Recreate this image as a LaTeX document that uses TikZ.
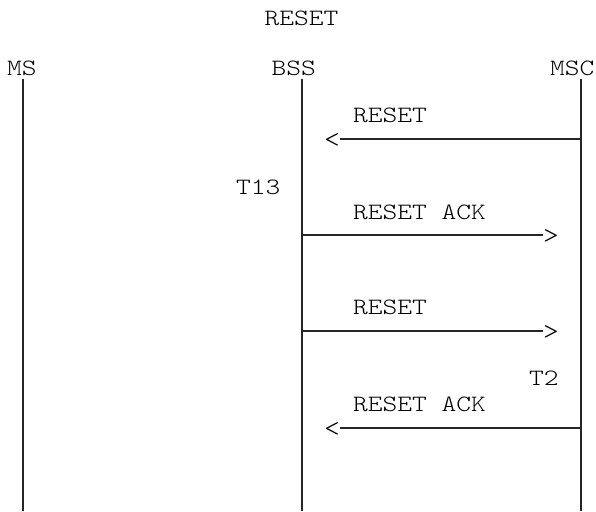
\documentclass[tikz,border=0pt]{standalone}
\usepackage{fontspec}
\setmonofont[FakeStretch=1.2]{lmmonolt10-regular.otf}
\usetikzlibrary{positioning}
\tikzset{
  lbl/.style={font=\ttfamily\fontsize{23.4}{28}\selectfont, inner sep=0pt, anchor=base west},
  head/.style={font=\ttfamily\fontsize{25}{30}\selectfont, inner sep=0pt},
  life/.style={line width=2pt, black!85},
  msg/.style={line width=2pt, black!85},
}
\begin{document}
\begin{tikzpicture}[x=1pt, y=-1pt]
\useasboundingbox (0,0) rectangle (596,511);
\node[lbl, anchor=base] (title) at (301.5,26) {RESET};
\node[lbl] (ms) at (7,75) {MS};
\node[lbl] (bss) at (271.5,75) {BSS};
\node[lbl] (msc) at (550,75) {MSC};
% lifelines
\foreach \n/\x in {ms/23, bss/302, msc/581} {
  \coordinate (\n top) at (\x,79);
  \coordinate (\n bot) at (\x,511);
  \draw[life] (\n top) -- (\n bot);
}
% timers
\node[lbl] (t13) at (236,194.3) {T13};
\node[lbl] (t2) at (529,385.7) {T2};
% messages
\node[lbl] (l1) at (353,122.7) {RESET};
\coordinate (m1) at (581,139);
\node[head, anchor=base east] (h1) at (340,147) {<};
\draw[msg] (m1) -- (h1.east |- m1);
\node[lbl] (l2) at (353,219) {RESET ACK};
\coordinate (m2) at (302,235);
\node[head, anchor=base west] (h2) at (543,243) {>};
\draw[msg] (m2) -- (h2.west |- m2);
\node[lbl] (l3) at (353,314) {RESET};
\coordinate (m3) at (302,331);
\node[head, anchor=base west] (h3) at (543,339) {>};
\draw[msg] (m3) -- (h3.west |- m3);
\node[lbl] (l4) at (353,411) {RESET ACK};
\coordinate (m4) at (581,428);
\node[head, anchor=base east] (h4) at (340,436) {<};
\draw[msg] (m4) -- (h4.east |- m4);
\end{tikzpicture}
\end{document}
